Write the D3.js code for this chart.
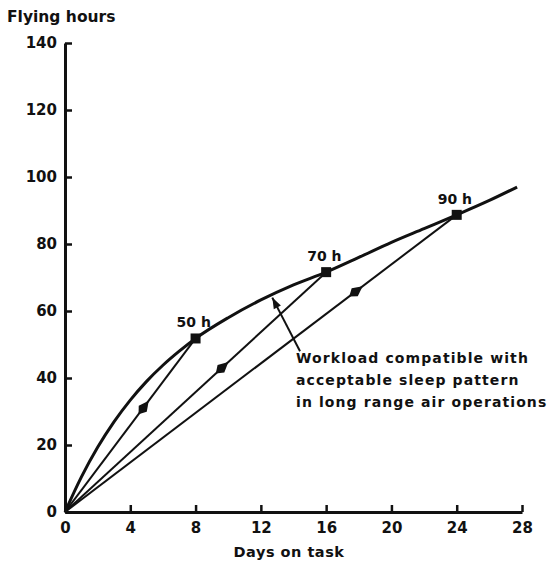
<!DOCTYPE html>
<html>
<head>
<meta charset="utf-8">
<script src="https://cdn.jsdelivr.net/npm/d3@7"></script>
<style>
  body { margin: 0; background: #fff; }
  svg text { font-family: "DejaVu Sans", sans-serif; font-weight: bold; fill: #111; }
</style>
</head>
<body>
<svg id="chart" width="547" height="561"></svg>
<script>
// envelope curve (days on task -> flying hours)
var curveDays  = [0, 1, 2, 3, 4, 5, 6, 7, 8, 10, 12, 14, 16, 18, 20, 22, 24, 26, 27.7];
var curveHours = [0, 10.4, 19.3, 26.9, 33.4, 39, 43.8, 48, 51.8, 58, 63.3, 67.8, 71.6, 76, 80.5, 84.6, 88.7, 93, 97];

// marked workload points
var boxDays   = [8, 16, 24];
var boxHours  = [51.8, 71.6, 88.7];
var boxLabels = ['50 h', '70 h', '90 h'];

// where the direction arrows sit on each straight line (days)
var arrowDays = [4.8, 9.6, 17.8];

var xTicks = [0, 4, 8, 12, 16, 20, 24, 28];
var yTicks = [0, 20, 40, 60, 80, 100, 120, 140];

var noteLines = ['Workload compatible with', 'acceptable sleep pattern', 'in long range air operations'];
var noteAt = {day: 14.4, hours: 48};   // start of pointer line
var noteTo = {day: 12.7, hours: 64};   // pointer touches the curve

var svg = d3.select('#chart');
var x = d3.scaleLinear().domain([0, 28]).range([65, 522]);
var y = d3.scaleLinear().domain([0, 140]).range([512, 43]);
var ink = '#111';

/* axes */
var gx = svg.append('g').attr('transform', 'translate(0,' + y(0) + ')')
    .call(d3.axisBottom(x).tickValues(xTicks).tickSizeInner(-7).tickSizeOuter(0).tickPadding(10));
var gy = svg.append('g').attr('transform', 'translate(' + x(0) + ',0)')
    .call(d3.axisLeft(y).tickValues(yTicks).tickSizeInner(-7).tickSizeOuter(0).tickPadding(8));

[gx, gy].forEach(function(g) {
    g.select('.domain').attr('stroke', ink).attr('stroke-width', 3);
    g.selectAll('.tick line').attr('stroke', ink).attr('stroke-width', 2.5);
    g.selectAll('.tick text').attr('font-size', 15).attr('font-family', '"DejaVu Sans", sans-serif')
        .attr('font-weight', 'bold').attr('fill', ink);
});
gx.selectAll('.tick text').attr('dy', '0.71em');

svg.append('text').attr('x', 7).attr('y', 22).attr('font-size', 15.5).text('Flying hours');
svg.append('text').attr('x', 289).attr('y', 557).attr('text-anchor', 'middle')
    .attr('font-size', 14.5).attr('letter-spacing', 0.5).text('Days on task');

/* straight lines from origin to each box */
boxDays.forEach(function(d, i) {
    svg.append('line')
        .attr('x1', x(0)).attr('y1', y(0))
        .attr('x2', x(d)).attr('y2', y(boxHours[i]))
        .attr('stroke', ink).attr('stroke-width', 2);
});

/* envelope curve */
var pts = curveDays.map(function(d, i) { return [d, curveHours[i]]; });
svg.append('path')
    .datum(pts)
    .attr('fill', 'none').attr('stroke', ink).attr('stroke-width', 3)
    .attr('d', d3.line().x(function(p) { return x(p[0]); }).y(function(p) { return y(p[1]); })
        .curve(d3.curveMonotoneX));

/* arrowheads on lines */
arrowDays.forEach(function(d, i) {
    var h = boxHours[i] * d / boxDays[i];
    var ang = Math.atan2(y(boxHours[i]) - y(0), x(boxDays[i]) - x(0)) * 180 / Math.PI;
    svg.append('path')
        .attr('d', 'M9,0 L-1,-5 L-8,0 L-1,5 Z')
        .attr('fill', ink)
        .attr('transform', 'translate(' + x(d) + ',' + y(h) + ') rotate(' + ang + ')');
});

/* boxes and labels */
boxDays.forEach(function(d, i) {
    svg.append('rect')
        .attr('x', x(d) - 5).attr('y', y(boxHours[i]) - 5)
        .attr('width', 10).attr('height', 10).attr('fill', ink);
    svg.append('text')
        .attr('x', x(d) - 19).attr('y', y(boxHours[i]) - 11)
        .attr('font-size', 14).text(boxLabels[i]);
});

/* annotation pointer */
var ax1 = x(noteAt.day), ay1 = y(noteAt.hours), ax2 = x(noteTo.day), ay2 = y(noteTo.hours);
svg.append('line').attr('x1', ax1).attr('y1', ay1).attr('x2', ax2).attr('y2', ay2)
    .attr('stroke', ink).attr('stroke-width', 2);
var pang = Math.atan2(ay2 - ay1, ax2 - ax1) * 180 / Math.PI;
svg.append('path')
    .attr('d', 'M0,0 L-11,-4 L-11,4 Z').attr('fill', ink)
    .attr('transform', 'translate(' + ax2 + ',' + ay2 + ') rotate(' + pang + ')');

var note = svg.append('text').attr('x', 296).attr('y', 363).attr('font-size', 14)
    .attr('letter-spacing', 1.1);
noteLines.forEach(function(t, i) {
    note.append('tspan').attr('x', 296).attr('dy', i === 0 ? 0 : 22).text(t);
});
</script>
</body>
</html>
